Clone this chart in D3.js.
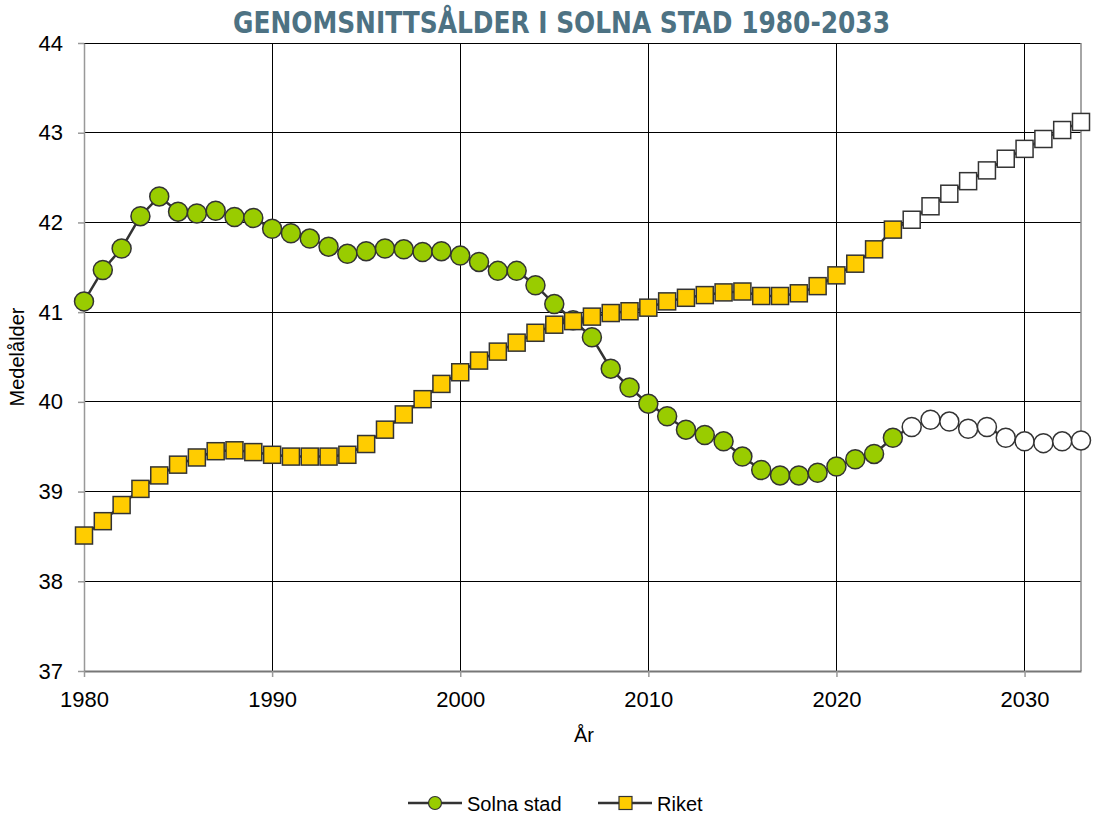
<!DOCTYPE html>
<html>
<head>
<meta charset="utf-8">
<script src="https://cdn.jsdelivr.net/npm/d3@7"></script>
<style>
  body { margin: 0; background: #fff; }
  svg { display: block; font-family: "Liberation Sans", Arial, sans-serif; }
</style>
</head>
<body>
<div id="chart"></div>
<script>
// Medelålder per år; värden från 2024 är prognos (öppna markörer)
const years = d3.range(1980, 2034);
const forecastFrom = 2024;

const solna = [
  41.12, 41.47, 41.71, 42.07, 42.29, 42.12, 42.10, 42.13, 42.06, 42.05,
  41.93, 41.88, 41.82, 41.73, 41.65, 41.68, 41.71, 41.70, 41.67, 41.68,
  41.63, 41.56, 41.46, 41.46, 41.30, 41.09, 40.91, 40.72, 40.37, 40.16,
  39.98, 39.84, 39.69, 39.63, 39.56, 39.39, 39.24, 39.18, 39.18, 39.21,
  39.28, 39.36, 39.42, 39.60, 39.72, 39.80, 39.78, 39.70, 39.72, 39.60,
  39.56, 39.54, 39.56, 39.57
];

const riket = [
  38.51, 38.67, 38.85, 39.03, 39.18, 39.30, 39.38, 39.45, 39.46, 39.44,
  39.41, 39.39, 39.39, 39.39, 39.41, 39.53, 39.69, 39.86, 40.03, 40.20,
  40.33, 40.46, 40.56, 40.66, 40.77, 40.86, 40.90, 40.95, 40.99, 41.01,
  41.05, 41.12, 41.16, 41.19, 41.22, 41.23, 41.18, 41.18, 41.21, 41.29,
  41.41, 41.54, 41.70, 41.92, 42.03, 42.18, 42.32, 42.46, 42.58, 42.71,
  42.82, 42.93, 43.03, 43.12
];

const xTicks = [1980, 1990, 2000, 2010, 2020, 2030];
const yTicks = [37, 38, 39, 40, 41, 42, 43, 44];

const W = 1095, H = 816;
const plotLeft = 84, plotRight = 1081, plotTop = 43, plotBottom = 671;

const svg = d3.select('#chart').append('svg')
  .attr('width', W)
  .attr('height', H);

const x = d3.scaleLinear().domain([1980, 2033]).range([plotLeft, plotRight]);
const y = d3.scaleLinear().domain([37, 44]).range([plotBottom, plotTop]);

// title
svg.append('text')
  .attr('x', 233)
  .attr('y', 33)
  .attr('textLength', 657)
  .attr('lengthAdjust', 'spacingAndGlyphs')
  .style('font-family', '"Liberation Sans Narrow", "DejaVu Sans Condensed", sans-serif')
  .style('font-weight', 'bold')
  .style('font-size', '31px')
  .style('fill', '#4d7283')
  .text('GENOMSNITTSÅLDER I SOLNA STAD 1980-2033');

// grid
const grid = svg.append('g');
grid.selectAll('.hgrid').data(yTicks.filter(d => d > 37)).enter().append('line')
  .attr('x1', plotLeft).attr('x2', plotRight)
  .attr('y1', d => y(d)).attr('y2', d => y(d))
  .attr('stroke', '#000').attr('stroke-width', 1)
  .attr('shape-rendering', 'crispEdges');
grid.selectAll('.vgrid').data(xTicks.filter(d => d > 1980)).enter().append('line')
  .attr('x1', d => x(d)).attr('x2', d => x(d))
  .attr('y1', plotTop).attr('y2', plotBottom)
  .attr('stroke', '#000').attr('stroke-width', 1)
  .attr('shape-rendering', 'crispEdges');
grid.append('line')
  .attr('x1', plotRight).attr('x2', plotRight).attr('y1', plotTop).attr('y2', plotBottom)
  .attr('stroke', '#888').attr('stroke-width', 1.5);

// axes
const yAxis = svg.append('g')
  .attr('transform', `translate(${plotLeft},0)`)
  .call(d3.axisLeft(y).tickValues(yTicks).tickFormat(d3.format('d')).tickSizeInner(6).tickSizeOuter(0).tickPadding(15));
yAxis.select('.domain').attr('stroke', '#999').attr('stroke-width', 1.5);
yAxis.selectAll('.tick line').attr('stroke', '#999').attr('stroke-width', 1.5);
yAxis.selectAll('text').style('font-size', '22px').style('fill', '#000')
  .style('font-family', '"Liberation Sans", Arial, sans-serif');

const xAxis = svg.append('g')
  .attr('transform', `translate(0,${plotBottom})`)
  .call(d3.axisBottom(x).tickValues(xTicks).tickFormat(d3.format('d')).tickSizeInner(6).tickSizeOuter(0).tickPadding(14));
xAxis.select('.domain').attr('stroke', '#777').attr('stroke-width', 2);
xAxis.selectAll('.tick line').attr('stroke', '#999').attr('stroke-width', 1.5);
xAxis.selectAll('text').style('font-size', '22px').style('fill', '#000')
  .style('font-family', '"Liberation Sans", Arial, sans-serif');

svg.append('text')
  .attr('x', 584).attr('y', 742)
  .attr('text-anchor', 'middle')
  .style('font-size', '20px')
  .text('År');

svg.append('text')
  .attr('transform', 'translate(24,357) rotate(-90)')
  .attr('text-anchor', 'middle')
  .style('font-size', '20px')
  .text('Medelålder');

// series
const line = d3.line().x((d, i) => x(years[i])).y(d => y(d));

function drawSeries(values, shape, fill) {
  svg.append('path')
    .datum(values)
    .attr('d', line)
    .attr('fill', 'none')
    .attr('stroke', '#333')
    .attr('stroke-width', 2.5);

  const pts = values.map((v, i) => ({ year: years[i], v }));
  const g = svg.append('g');
  if (shape === 'circle') {
    g.selectAll('circle').data(pts).enter().append('circle')
      .attr('cx', d => x(d.year))
      .attr('cy', d => y(d.v))
      .attr('r', 9.5)
      .attr('fill', d => d.year >= forecastFrom ? '#fff' : fill)
      .attr('stroke', '#333')
      .attr('stroke-width', 1.5);
  } else {
    g.selectAll('rect').data(pts).enter().append('rect')
      .attr('x', d => x(d.year) - 8.5)
      .attr('y', d => y(d.v) - 8.5)
      .attr('width', 17)
      .attr('height', 17)
      .attr('fill', d => d.year >= forecastFrom ? '#fff' : fill)
      .attr('stroke', '#333')
      .attr('stroke-width', 1.5);
  }
}

drawSeries(solna, 'circle', '#99cc00');
drawSeries(riket, 'square', '#ffcc00');

// legend
const legend = svg.append('g').attr('transform', 'translate(0,803)');
const items = [
  { name: 'Solna stad', x0: 408, shape: 'circle', fill: '#99cc00' },
  { name: 'Riket', x0: 598, shape: 'square', fill: '#ffcc00' }
];
items.forEach(it => {
  legend.append('line')
    .attr('x1', it.x0).attr('x2', it.x0 + 54)
    .attr('y1', 0).attr('y2', 0)
    .attr('stroke', '#333').attr('stroke-width', 2.5);
  if (it.shape === 'circle') {
    legend.append('circle')
      .attr('cx', it.x0 + 27).attr('cy', 0).attr('r', 6.5)
      .attr('fill', it.fill).attr('stroke', '#333').attr('stroke-width', 1.2);
  } else {
    legend.append('rect')
      .attr('x', it.x0 + 21).attr('y', -6.5).attr('width', 13).attr('height', 13)
      .attr('fill', it.fill).attr('stroke', '#333').attr('stroke-width', 1.2);
  }
  legend.append('text')
    .attr('x', it.x0 + 59).attr('y', 7.5)
    .style('font-size', '20px')
    .text(it.name);
});
</script>
</body>
</html>
